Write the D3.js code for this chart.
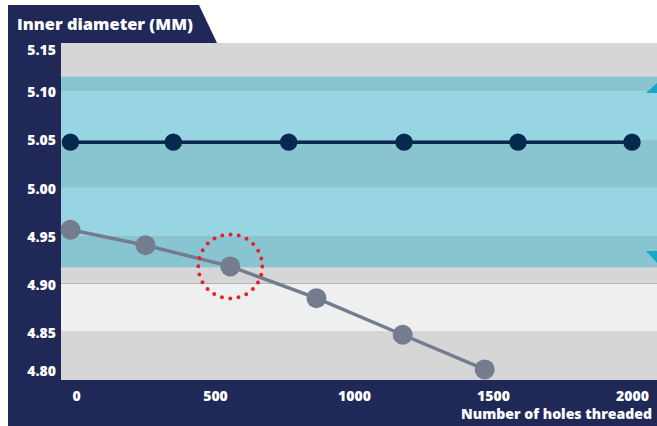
<!DOCTYPE html>
<html>
<head>
<meta charset="utf-8">
<script src="https://cdn.jsdelivr.net/npm/d3@7"></script>
<style>
  html, body { margin: 0; padding: 0; background: #ffffff; }
  svg { display: block; font-family: "Open Sans", Lato, sans-serif; }
</style>
</head>
<body>
<svg id="chart" width="657" height="426"></svg>
<script>
// Thread gauge check: inner diameter against number of holes threaded
const yTicks = [4.80, 4.85, 4.90, 4.95, 5.00, 5.05, 5.10, 5.15];
const xTicks = [0, 500, 1000, 1500, 2000];

// Acceptable diameter zone and its limit markers
const toleranceBand = [4.917, 5.115];
const limitMarkers = [5.098, 4.934];

// Reference tap (steady) and worn tap (drifting)
const nominalHoles = [-20, 350, 765, 1180, 1590, 2000];
const nominalDiameter = [5.047, 5.047, 5.047, 5.047, 5.047, 5.047];
const measuredHoles = [-20, 250, 555, 865, 1175, 1470];
const measuredDiameter = [4.956, 4.940, 4.918, 4.885, 4.847, 4.811];
const highlightIndex = 2;

const titleText = "Inner diameter (MM)";
const xTitleText = "Number of holes threaded";

const W = 657, H = 426;
const plot = { left: 61, right: 657, top: 43, bottom: 380 };
const navy = "#1f2857";
const font = "'Open Sans', Lato, sans-serif";

const svg = d3.select("#chart");

const x = d3.scaleLinear().domain([0, 2000]).range([76, 632]);
const y = d3.scaleLinear().domain([4.80, 5.15]).range([plot.bottom, plot.top]);

// Dark frame with title tab
svg.append("rect").attr("x", 8).attr("y", plot.top).attr("width", W - 8).attr("height", H - plot.top).attr("fill", navy);
svg.append("path")
  .attr("d", `M8,5 L199,5 L217,${plot.top} L8,${plot.top} Z`)
  .attr("fill", navy);

// Striped background, teal inside the tolerance zone
const stripes = d3.pairs(yTicks).map((p, i) => ({ lo: p[0], hi: p[1], dark: i % 2 === 0 }));
const bg = svg.append("g");
stripes.forEach(s => {
  bg.append("rect")
    .attr("x", plot.left).attr("width", plot.right - plot.left)
    .attr("y", y(s.hi)).attr("height", y(s.lo) - y(s.hi))
    .attr("fill", s.dark ? "#d6d6d6" : "#eef0ef");
  const lo = Math.max(s.lo, toleranceBand[0]);
  const hi = Math.min(s.hi, toleranceBand[1]);
  if (hi > lo) {
    bg.append("rect")
      .attr("x", plot.left).attr("width", plot.right - plot.left)
      .attr("y", y(hi)).attr("height", y(lo) - y(hi))
      .attr("fill", s.dark ? "#88c5d0" : "#98d5e2");
  }
});

// Limit markers on the right edge
const mk = 11;
svg.append("path")
  .attr("d", `M${plot.right - mk},${y(limitMarkers[0])} L${plot.right},${y(limitMarkers[0])} L${plot.right},${y(limitMarkers[0]) - 10} Z`)
  .attr("fill", "#17a8c9");
svg.append("path")
  .attr("d", `M${plot.right - mk},${y(limitMarkers[1])} L${plot.right},${y(limitMarkers[1])} L${plot.right},${y(limitMarkers[1]) + 12} Z`)
  .attr("fill", "#17a8c9");

// Axes
const yAxis = svg.append("g")
  .attr("transform", `translate(${plot.left},0)`)
  .call(d3.axisLeft(y).tickValues(yTicks).tickFormat(d3.format(".2f")).tickSize(0).tickPadding(5));
yAxis.select(".domain").remove();
yAxis.selectAll("text")
  .attr("fill", "#ffffff").attr("font-size", 14).attr("font-weight", 800)
  .attr("font-family", font)
  .attr("dy", d => d === 5.15 ? "0.8em" : d === 4.80 ? "-0.3em" : "0.4em");

const xAxis = svg.append("g")
  .attr("transform", `translate(0,${plot.bottom})`)
  .call(d3.axisBottom(x).tickValues(xTicks).tickFormat(d3.format("d")).tickSize(0));
xAxis.select(".domain").remove();
xAxis.selectAll("text")
  .attr("fill", "#ffffff").attr("font-size", 14).attr("font-weight", 800)
  .attr("font-family", font)
  .attr("y", 21).attr("dy", null);

// Titles, sized to their boxes
function fitText(sel, target) {
  const len = sel.node().getComputedTextLength();
  const size = +sel.attr("font-size");
  if (len > 0) sel.attr("font-size", size * target / len);
}
const title = svg.append("text")
  .attr("x", 17).attr("y", 30)
  .attr("fill", "#ffffff").attr("font-size", 17).attr("font-weight", 800)
  .attr("font-family", font)
  .text(titleText);
fitText(title, 176);
const xTitle = svg.append("text")
  .attr("x", 652).attr("y", 419).attr("text-anchor", "end")
  .attr("fill", "#ffffff").attr("font-size", 13).attr("font-weight", 800)
  .attr("font-family", font)
  .text(xTitleText);
fitText(xTitle, 191);

// Series
const line = d3.line().x(d => x(d[0])).y(d => y(d[1]));
const nominal = d3.zip(nominalHoles, nominalDiameter);
const measured = d3.zip(measuredHoles, measuredDiameter);

svg.append("path").datum(measured).attr("d", line)
  .attr("fill", "none").attr("stroke", "#747c8f").attr("stroke-width", 3.5);
svg.append("g").selectAll("circle").data(measured).join("circle")
  .attr("cx", d => x(d[0])).attr("cy", d => y(d[1])).attr("r", 10)
  .attr("fill", "#747c8f");

svg.append("path").datum(nominal).attr("d", line)
  .attr("fill", "none").attr("stroke", "#062a4f").attr("stroke-width", 3.5);
svg.append("g").selectAll("circle").data(nominal).join("circle")
  .attr("cx", d => x(d[0])).attr("cy", d => y(d[1])).attr("r", 8.7)
  .attr("fill", "#062a4f");

// Dotted ring around the point where the worn tap leaves tolerance
const hp = measured[highlightIndex];
const ringR = 32;
const dotGap = 2 * Math.PI * ringR / 24;
svg.append("circle")
  .attr("cx", x(hp[0])).attr("cy", y(hp[1])).attr("r", ringR)
  .attr("fill", "none").attr("stroke", "#e8202a").attr("stroke-width", 4)
  .attr("stroke-linecap", "round").attr("stroke-dasharray", `0 ${dotGap}`);
</script>
</body>
</html>
